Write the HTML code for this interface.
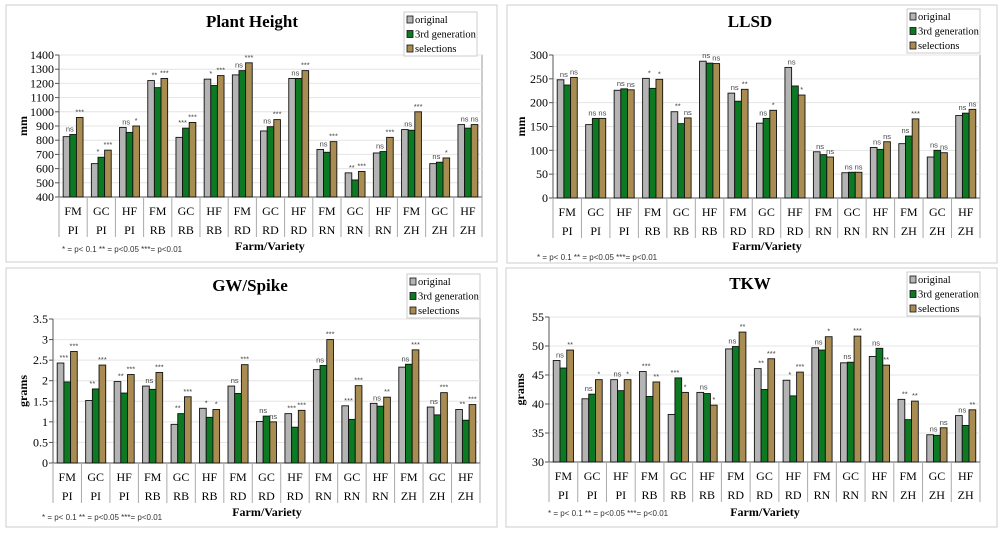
<!DOCTYPE html>
<html><head><meta charset="utf-8"><style>
body{margin:0;background:#fff;width:1000px;height:535px;overflow:hidden}
svg{position:absolute;left:0;top:0}
text{font-family:"Liberation Serif",serif}
.s{font-family:"Liberation Sans",sans-serif;font-size:7.5px;fill:#444}
.f{font-family:"Liberation Sans",sans-serif;font-size:8px;fill:#333}
</style></head><body>
<svg id="c" width="1000" height="535"></svg>
<script>
const categories=["FM","GC","HF","FM","GC","HF","FM","GC","HF","FM","GC","HF","FM","GC","HF"];
const varieties=["PI","PI","PI","RB","RB","RB","RD","RD","RD","RN","RN","RN","ZH","ZH","ZH"];
const seriesNames=["original","3rd generation","selections"];
const phOrig=[825,635,890,1220,820,1230,1260,865,1235,735,570,710,875,635,910];
const ph3rd=[840,680,855,1170,885,1185,1290,895,1235,715,520,720,870,645,885];
const phSel=[960,730,900,1235,925,1255,1345,945,1290,790,580,820,1000,675,910];
const phSig1=["ns","*","ns","**","***","*","ns","ns","ns","ns","**","ns","ns","ns","ns"];
const phSig2=["***","***","*","***","***","***","***","***","***","***","***","***","***","*","ns"];
const phTicks=[400,500,600,700,800,900,1000,1100,1200,1300,1400];
const llOrig=[248,154,226,251,181,287,220,157,274,97,53,106,114,86,173];
const ll3rd=[237,167,229,230,156,283,203,167,235,91,54,102,130,100,178];
const llSel=[253,167,227,249,168,282,228,184,216,86,54,118,166,95,186];
const llSig1=["ns","ns","ns","*","**","ns","ns","ns","ns","ns","ns","ns","ns","ns","ns"];
const llSig2=["ns","ns","ns","*","ns","ns","**","*","*","ns","ns","ns","***","ns","ns"];
const llTicks=[0,50,100,150,200,250,300];
const gwOrig=[2.43,1.52,1.98,1.87,0.94,1.33,1.87,1.01,1.20,2.27,1.39,1.45,2.33,1.36,1.30];
const gw3rd=[1.97,1.80,1.70,1.79,1.20,1.11,1.69,1.14,0.87,2.37,1.06,1.38,2.40,1.17,1.04];
const gwSel=[2.71,2.38,2.15,2.20,1.61,1.30,2.39,1.00,1.28,3.00,1.88,1.60,2.75,1.71,1.42];
const gwSig1=["***","**","**","ns","**","*","ns","ns","***","ns","***","ns","ns","ns","**"];
const gwSig2=["***","***","***","***","***","*","***","ns","***","***","***","**","***","***","***"];
const gwTicks=[0,0.5,1,1.5,2,2.5,3,3.5];
const gwTickLabels=["0","0.5","1","1.5","2","2.5","3","3.5"];
const tkOrig=[47.5,40.9,44.2,45.6,38.2,42.0,49.5,46.1,44.1,49.7,47.1,48.2,40.8,34.7,38.0];
const tk3rd=[46.2,41.7,42.3,41.3,44.5,41.8,49.9,42.5,41.4,49.3,47.2,49.6,37.3,34.6,36.3];
const tkSel=[49.3,44.2,44.2,43.8,42.0,39.8,52.4,47.8,45.5,51.6,51.7,46.7,40.5,35.9,39.0];
const tkSig1=["ns","ns","ns","***","***","ns","ns","**","*","ns","ns","ns","**","ns","ns"];
const tkSig2=["**","*","*","**","*","*","**","***","***","*","***","**","**","ns","**"];
const tkTicks=[30,35,40,45,50,55];

const NS="http://www.w3.org/2000/svg";
const svg=document.getElementById('c');
const colors=["#b4b4b4","#0b7a22","#a88c52"];
function el(tag,attrs,parent,txt){const e=document.createElementNS(NS,tag);for(const k in attrs)e.setAttribute(k,attrs[k]);if(txt!==undefined)e.textContent=txt;(parent||svg).appendChild(e);return e;}

function panel(p){
  const g=el('g',{});
  
  
  const fr=el('rect',{x:p.bx,y:p.by,width:p.bw,height:p.bh,fill:'#fff',stroke:'#ccc','stroke-width':1},g);
  
  const t=el('text',{x:p.tx,y:p.ty,'text-anchor':'middle','font-size':17,'font-weight':'bold'},g,p.title);
  
  const L=p.L,R=p.R,T=p.T,B=p.B,min=p.ticks[0],max=p.ticks[p.ticks.length-1];
  const y=v=>B-(v-min)/(max-min)*(B-T);
  const cw=(R-L)/categories.length;
  const x=i=>L+i*cw;
  el('rect',{x:L,y:T,width:R-L,height:B-T,fill:'#fff',stroke:'#999','stroke-width':1},g);
  p.ticks.forEach((v,k)=>{
    const gl=el('line',{x1:L,x2:R,y1:y(v),y2:y(v),stroke:'#e4e4e4'},g);
    
    el('line',{x1:L-4,x2:L,y1:y(v),y2:y(v),stroke:'#555'},g);
    const tl=el('text',{x:L-5,y:y(v)+4,'text-anchor':'end','font-size':12},g,p.labels?p.labels[k]:String(v));
    
  });
  el('line',{x1:L,x2:L,y1:T,y2:B,stroke:'#555'},g);
  el('line',{x1:L,x2:R,y1:B,y2:B,stroke:'#555'},g);
  for(let i=0;i<=categories.length;i++){el('line',{x1:x(i),x2:x(i),y1:B,y2:B+40,stroke:'#aaa'},g);}
  const bw=cw*0.235;
  categories.forEach((c,i)=>{
    const cx=x(i)+cw/2;
    [p.a,p.b,p.c].forEach((s,j)=>{
      const bx=cx-1.5*bw+j*bw;
      const r=el('rect',{x:bx,y:y(s[i]),width:bw,height:B-y(s[i]),fill:colors[j],stroke:'#111','stroke-width':0.9},g);
      
      
    });
    const s1=el('text',{x:cx-bw*0.5,y:Math.min(y(p.a[i]),y(p.b[i]))-3,'text-anchor':'middle','class':'s'},g,p.s1[i]);
    
    const s2=el('text',{x:cx+bw,y:y(p.c[i])-3,'text-anchor':'middle','class':'s'},g,p.s2[i]);
    
    const c1=el('text',{x:cx,y:B+18,'text-anchor':'middle','font-size':12},g,c);
    
    const c2=el('text',{x:cx,y:B+37,'text-anchor':'middle','font-size':12},g,varieties[i]);
    
  });
  const xt=el('text',{x:p.xtx,y:p.xty,'text-anchor':'middle','font-size':12,'font-weight':'bold'},g,'Farm/Variety');
  
  const yt=el('text',{x:p.ytx,y:(T+B)/2,'text-anchor':'middle','font-size':12,'font-weight':'bold',transform:`rotate(-90 ${p.ytx} ${(T+B)/2})`},g,p.yl);
  
  const fn=el('text',{x:p.fx,y:p.fy,'class':'f'},g,'* = p< 0.1    ** = p<0.05 ***= p<0.01');
  
  const lg=el('g',{},g);
  
  el('rect',{x:p.lx,y:p.ly,width:73,height:44,fill:'#fff',stroke:'#ccc'},lg);
  seriesNames.forEach((n,j)=>{
    const e=el('g',{},lg);
    
    el('rect',{x:p.lx+3,y:p.ly+4+j*14.5,width:6,height:7,fill:colors[j],stroke:'#111','stroke-width':0.8},e);
    el('text',{x:p.lx+11,y:p.ly+11+j*14.5,'font-size':10.5},e,n);
  });
}
panel({id:'plant-height',title:'Plant Height',bx:6,by:5,bw:491,bh:257,tx:252,ty:27,L:59,R:482,T:55,B:197,ticks:phTicks,a:phOrig,b:ph3rd,c:phSel,s1:phSig1,s2:phSig2,xtx:270,xty:250,ytx:27,yl:'mm',fx:62,fy:252,lx:404,ly:12});
panel({id:'llsd',title:'LLSD',bx:507,by:5,bw:490,bh:258,tx:750,ty:27,L:553,R:980,T:55,B:198,ticks:llTicks,a:llOrig,b:ll3rd,c:llSel,s1:llSig1,s2:llSig2,xtx:767,xty:250,ytx:525,yl:'mm',fx:537,fy:260,lx:907,ly:9});
panel({id:'gw-spike',title:'GW/Spike',bx:6,by:268,bw:491,bh:259,tx:250,ty:291,L:53,R:480,T:319,B:463,ticks:gwTicks,labels:gwTickLabels,a:gwOrig,b:gw3rd,c:gwSel,s1:gwSig1,s2:gwSig2,xtx:267,xty:516,ytx:27,yl:'grams',fx:42,fy:520,lx:407,ly:274});
panel({id:'tkw',title:'TKW',bx:506,by:268,bw:491,bh:259,tx:750,ty:289,L:549,R:980,T:317,B:462,ticks:tkTicks,a:tkOrig,b:tk3rd,c:tkSel,s1:tkSig1,s2:tkSig2,xtx:765,xty:516,ytx:524,yl:'grams',fx:548,fy:516,lx:907,ly:272});
</script>
</body></html>
